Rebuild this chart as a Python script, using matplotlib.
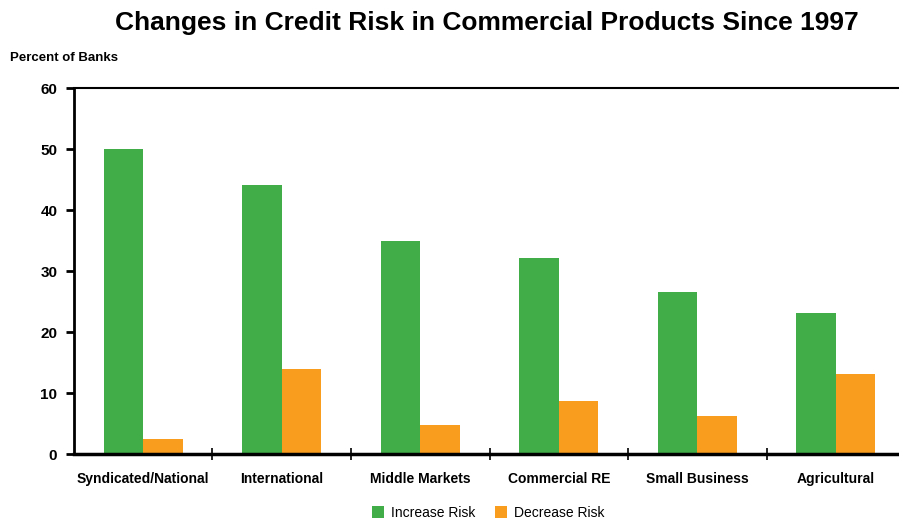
import numpy as np
import matplotlib.pyplot as plt

plt.rcParams["font.family"] = ["Liberation Sans", "DejaVu Sans"]

# Share of banks reporting a change in credit risk, by product
categories = ["Syndicated/National", "International", "Middle Markets",
              "Commercial RE", "Small Business", "Agricultural"]
increase_risk = [50.0, 44.1, 34.9, 32.1, 26.6, 23.1]
decrease_risk = [2.5, 13.9, 4.7, 8.7, 6.2, 13.1]

green = "#41AD49"
orange = "#F99D1F"

fig = plt.figure(figsize=(8.99, 5.2), dpi=100)
ax = fig.add_axes([0.0823, 0.1269, 0.9244, 0.7038])

x = np.arange(len(categories))
w = 0.285
ax.bar(x - w / 2, increase_risk, w, color=green, label="Increase Risk")
ax.bar(x + w / 2, decrease_risk, w, color=orange, label="Decrease Risk")

ax.set_xlim(-0.5, len(categories) - 0.5)
ax.set_ylim(0, 60)
ax.set_yticks(range(0, 61, 10))
ax.set_yticklabels([str(v) for v in range(0, 61, 10)], fontsize=11, fontweight="bold")

# category names centred, tick marks on group boundaries
ax.set_xticks(x)
ax.set_xticklabels(categories, fontsize=10, fontweight="bold")
ax.tick_params(axis="x", which="major", length=0, pad=13)
ax.set_xticks(np.arange(0.5, len(categories) - 0.5, 1), minor=True)
ax.tick_params(axis="x", which="minor", direction="inout", length=8, width=1.2)
ax.tick_params(axis="y", direction="out", length=6, width=2, pad=6)

ax.spines["right"].set_visible(False)
ax.spines["left"].set_linewidth(2)
ax.spines["bottom"].set_linewidth(2.5)
ax.spines["top"].set_linewidth(1.5)

fig.text(0.542, 0.955, "Changes in Credit Risk in Commercial Products Since 1997",
         ha="center", va="center", fontsize=19, fontweight="bold")
fig.text(0.011, 0.889, "Percent of Banks", ha="left", va="center",
         fontsize=9.5, fontweight="bold")

fig.legend(loc="center", bbox_to_anchor=(0.543, 0.014), ncol=2, frameon=False,
           fontsize=10, handlelength=0.9, handleheight=0.9, columnspacing=1.4,
           handletextpad=0.5)

fig.savefig("out.png", dpi=100)
